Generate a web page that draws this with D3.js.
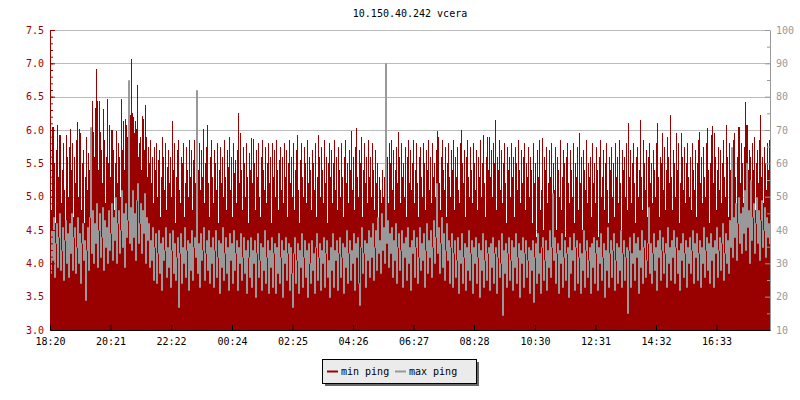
<!DOCTYPE html>
<html>
<head>
<meta charset="utf-8">
<script src="https://cdn.jsdelivr.net/npm/d3@7"></script>
<style>
  body { margin: 0; background: #fff; }
  svg text { font-family: "DejaVu Sans Mono", monospace; font-size: 10px; }
</style>
</head>
<body>
<svg id="chart" width="800" height="400"></svg>
<script>
var title = "10.150.40.242 vcera";
var startTime = "18:20";
var sampleMinutes = 2;
var timeLabels = ["18:20","20:21","22:22","00:24","02:25","04:26","06:27","08:28","10:30","12:31","14:32","16:33"];
var leftTicks = [3.0,3.5,4.0,4.5,5.0,5.5,6.0,6.5,7.0,7.5];
var rightTicks = [10,20,30,40,50,60,70,80,90,100];
var seriesNames = ["min ping","max ping"];

// min ping, ms (left axis), one value every 2 minutes
var minPing = [
5.2,4.8,6.05,6.05,5.5,4.6,5.7,6.07,5.3,5.93,5.93,4.9,5.4,5.8,5.1,4.5,5.92,5.6,5.0,5.75,
6.02,5.4,5.8,4.7,5.6,5.2,5.85,6.12,5.0,6.02,5.95,4.8,5.5,5.7,4.6,5.3,5.9,5.1,5.65,5.4,
5.5,5.8,6.43,5.97,5.6,6.33,6.92,6.43,5.4,6.44,5.97,5.7,5.2,6.32,5.85,4.9,5.6,6.46,5.5,6.07,
5.3,6.0,6.0,5.7,4.8,5.5,5.98,5.2,5.8,5.6,5.0,6.47,5.7,6.14,5.4,6.16,6.08,5.9,5.3,5.8,
6.23,7.07,6.25,6.19,5.96,6.14,6.02,6.67,5.6,5.8,5.9,5.4,6.21,6.16,5.7,6.38,5.9,5.3,5.75,5.5,
5.85,5.2,5.6,4.9,5.75,5.4,5.8,5.0,5.55,5.7,4.7,5.3,5.9,5.6,5.1,5.8,4.8,5.45,5.7,5.2,
5.6,5.0,6.14,5.4,5.8,4.6,5.3,5.7,5.85,5.1,4.9,5.6,5.5,5.8,4.7,5.2,5.75,5.4,5.0,5.85,
5.3,5.7,4.8,5.55,5.85,5.2,5.6,4.6,5.4,5.8,5.1,5.7,5.3,6.02,4.9,5.5,5.75,6.07,5.2,4.7,
5.6,5.85,5.3,4.9,5.7,5.5,5.1,5.8,4.6,5.4,5.75,5.2,5.6,5.0,5.85,5.3,4.8,5.7,5.45,5.9,
5.1,5.6,4.7,5.8,5.35,5.55,4.9,5.7,6.26,5.2,5.95,5.4,4.8,5.75,5.5,5.0,5.8,5.3,4.6,5.65,
5.4,5.88,5.2,5.86,5.5,4.8,5.7,5.3,5.8,5.0,4.7,5.6,5.85,5.4,5.1,5.75,4.9,5.5,5.8,5.2,
5.6,4.6,5.8,5.3,5.7,5.0,5.85,5.4,4.8,5.55,5.75,5.1,5.6,4.9,5.8,5.3,5.7,4.7,5.5,5.85,
5.2,5.6,5.0,5.8,4.8,5.4,5.7,5.93,5.1,4.6,5.55,5.8,5.3,5.0,5.75,5.5,4.9,5.85,5.2,5.6,
5.4,4.8,5.7,5.5,5.1,5.8,4.7,5.3,5.93,5.6,5.0,5.75,5.4,4.9,5.85,5.2,5.6,4.6,5.5,5.8,
5.3,5.7,4.9,5.5,5.85,5.1,5.6,4.8,5.75,5.4,5.0,5.8,5.3,4.7,5.6,5.85,5.2,5.5,4.9,5.7,
5.4,5.98,5.1,5.6,4.8,5.75,6.03,5.3,5.0,5.7,5.5,5.9,4.7,5.4,5.8,5.2,5.6,4.9,5.85,5.3,
5.6,5.0,5.8,5.4,4.8,5.7,5.2,5.5,4.6,5.3,5.1,4.9,5.4,5.0,5.3,4.7,5.2,5.6,4.9,5.8,
5.5,5.85,5.1,5.7,4.8,5.4,5.75,5.2,5.97,5.6,4.9,5.8,5.3,5.5,5.0,5.75,4.7,5.6,5.85,5.2,
5.7,5.1,5.5,5.85,4.9,5.4,5.8,5.2,4.7,5.6,5.75,5.3,5.0,5.8,5.5,4.8,5.7,5.4,5.85,5.1,
5.6,4.9,5.8,5.3,5.5,5.0,5.7,5.99,5.9,5.2,4.8,5.6,5.85,5.4,5.1,5.75,4.7,5.5,5.8,5.3,
5.0,5.7,5.4,5.85,4.8,5.6,5.3,5.75,5.1,4.9,5.8,6.0,5.5,5.2,5.7,4.7,5.6,5.85,5.3,5.0,
5.75,5.4,4.9,5.8,5.5,5.1,5.7,4.8,5.6,5.3,5.85,5.0,5.5,5.93,5.2,4.7,5.6,5.9,5.4,5.9,
5.3,5.7,5.0,5.8,5.5,6.15,4.8,5.6,5.4,5.85,5.1,5.7,4.9,5.5,5.8,5.2,4.6,5.75,5.4,5.6,
5.0,5.8,5.3,5.6,4.7,5.75,5.5,5.1,5.85,5.4,4.9,5.7,5.2,5.6,5.8,4.8,5.5,5.3,5.75,5.0,
5.6,5.4,4.6,5.8,5.2,5.5,4.4,5.7,5.3,5.85,4.8,5.1,5.88,4.5,5.6,5.4,5.75,4.9,5.2,5.7,
5.3,5.8,4.7,5.5,5.1,5.75,4.5,5.6,5.4,5.0,5.85,4.8,5.3,5.7,5.5,4.4,5.6,5.8,5.2,4.9,
5.7,5.4,5.0,5.8,4.6,5.5,5.3,5.75,4.8,5.95,5.2,5.6,4.5,5.7,5.4,5.1,5.85,4.9,5.5,5.3,
5.6,4.7,5.8,5.2,5.5,4.9,5.75,5.4,4.4,5.6,5.85,5.0,5.3,5.7,4.8,5.5,5.8,5.1,4.6,5.6,
5.4,5.75,5.0,5.5,4.7,5.8,5.3,5.6,4.9,5.85,5.2,4.5,5.7,5.4,5.6,5.0,5.8,4.8,6.1,5.3,
5.7,4.9,5.5,5.8,5.2,4.6,5.6,5.75,5.0,5.4,6.15,5.3,4.8,5.85,5.5,5.1,5.7,4.7,5.6,5.8,
5.2,5.5,4.9,5.7,5.4,5.0,5.8,6.1,5.3,4.7,5.6,5.5,5.95,5.1,5.75,4.8,5.4,5.9,5.6,5.2,
6.22,5.3,4.8,5.7,5.5,5.0,5.95,5.4,5.8,4.6,5.2,5.95,5.6,5.1,5.75,4.9,5.5,5.8,5.3,5.0,
5.6,4.8,5.8,5.4,5.1,5.7,4.7,5.5,5.85,5.97,5.2,5.6,4.9,5.75,5.3,5.0,5.8,6.03,5.4,4.6,
5.5,5.93,6.06,5.2,5.95,5.6,4.8,5.4,5.75,5.1,5.7,4.9,5.5,5.85,5.3,5.0,6.07,5.6,4.7,5.8,
5.4,5.7,5.1,5.85,5.95,5.3,4.8,5.6,6.05,6.05,5.2,5.8,5.5,4.9,5.75,6.42,6.08,6.07,5.4,5.7,
5.6,5.0,5.8,5.4,5.9,4.8,5.5,5.7,5.2,5.85,6.22,5.3,5.6,4.9,5.75,5.5,5.1,5.8,5.4,5.85
];

// max ping, ms (right axis), one value every 2 minutes
var maxPing = [
27,40,31,44,26,36,42,29,38,45,28,34,41,25,37,43,30,39,26,42,
33,45,28,38,41,27,35,44,30,39,24,36,42,31,37,19,34,41,28,44,
71,33,46,30,42,36,48,29,40,45,32,38,47,28,43,35,41,30,46,34,
39,48,31,44,37,50,30,42,46,33,40,52,35,45,29,48,38,43,85,36,
47,34,52,38,45,31,49,54,36,42,48,33,46,39,51,30,44,37,42,29,
37,31,41,25,35,39,24,33,40,27,36,22,38,31,34,41,26,35,29,39,
23,34,40,27,36,25,32,38,17,33,39,24,35,30,41,26,34,37,22,36,
28,40,25,35,38,32,82,27,36,23,39,31,34,41,25,33,37,28,40,24,
35,30,38,23,34,40,26,32,37,21,36,29,41,25,33,38,27,35,22,39,
31,36,24,40,28,33,37,22,35,30,39,25,32,38,27,34,21,37,32,26,
38,23,34,30,37,20,33,39,26,31,36,22,35,28,40,24,32,37,21,34,
29,38,23,33,36,21,35,27,39,24,32,37,20,34,30,38,25,33,36,22,
35,27,17,33,38,24,31,36,21,34,29,39,23,32,37,26,34,20,36,30,
24,37,28,33,21,35,39,25,32,36,22,34,30,38,23,33,37,26,31,20,
35,28,39,23,34,31,37,22,33,38,26,32,36,21,35,29,40,24,33,37,
25,34,30,39,22,36,32,38,24,17.5,35,41,27,33,37,23,36,31,40,26,
38,32,42,25,35,40,28,44,33,37,27,45,34,41,30,90,36,43,29,39,
33,41,26,37,31,42,24,35,39,28,34,40,23,36,32,38,25,41,30,35,
22,37,33,40,26,35,38,24,32,41,28,36,31,39,23,34,42,27,37,32,
40,26,35,43,30,38,54,33,41,27,36,44,29,39,25,34,42,31,37,24,
35,39,23,33,37,26,31,38,21,34,30,39,24,32,36,22,35,28,40,25,
33,37,21,35,30,38,24,32,36,20,34,28,39,23,31,37,25,33,35,22,
36,29,38,24,33,35,21,32,37,26,30,39,14.5,34,27,36,23,33,38,25,
31,37,22,35,29,39,24,32,36,20,34,30,38,23,33,37,26,31,35,21,
34,28,37,18.5,32,36,24,39,27,33,21,35,38,25,31,37,22,34,29,40,
26,35,51,31,38,24,33,36,21,34,30,39,23,32,37,25,33,35,20,38,
27,34,31,39,22,35,37,24,32,36,21,33,28,40,23,34,37,26,31,35,
21,36,29,38,24,33,37,22,35,30,39,25,32,36,20,34,28,41,23,33,
37,26,34,39,22,31,36,24,35,28,40,23,33,37,25,32,35,15,34,38,
23,33,30,39,25,36,32,38,21,34,29,40,24,35,37,26,31,36,47,27,
36,24,33,39,28,35,22,37,32,40,25,34,38,27,33,36,23,41,30,35,
25,37,32,40,24,35,38,27,34,22,36,31,39,26,33,37,23,35,30,38,
27,34,40,24,36,32,39,25,33,37,23,35,30,41,26,34,38,28,36,24,
39,31,35,23,37,33,41,26,34,38,28,36,42,25,33,39,30,37,27,43,
35,65,32,44,38,48,31,42,50,36,45,33,47,39,52,34,60,41,46,30,
55,37,44,48,33,42,50,36,46,31,43,49,35,40,47,32,44,38,42,36
];

var red = "#990000", grey = "#999999";
var plotLeft = 50, plotRight = 770, plotTop = 30, plotBottom = 330;

var svg = d3.select("#chart");
svg.append("rect").attr("width", 800).attr("height", 400).attr("fill", "#fff");

var parseHM = d3.timeParse("%Y-%m-%d %H:%M");
var t0 = parseHM("2020-01-01 " + startTime);
var t1 = d3.timeDay.offset(t0, 1);
function labelTime(s) {
  var t = parseHM("2020-01-01 " + s);
  return t < t0 ? d3.timeDay.offset(t, 1) : t;
}

var x = d3.scaleTime().domain([t0, t1]).range([plotLeft, plotRight]);
var y = d3.scaleLinear().domain([3, 7.5]).range([plotBottom, plotTop]);
var y2 = d3.scaleLinear().domain([10, 100]).range([plotBottom, plotTop]);

var minData = minPing.map((v, i) => ({t: d3.timeMinute.offset(t0, i * sampleMinutes), v: v}));
var maxData = maxPing.map((v, i) => ({t: d3.timeMinute.offset(t0, i * sampleMinutes + sampleMinutes / 2), v: v}));

// grid
svg.append("g").selectAll("line").data(leftTicks.slice(1)).join("line")
    .attr("x1", plotLeft).attr("x2", plotRight)
    .attr("y1", d => Math.round(y(d)) + 0.5).attr("y2", d => Math.round(y(d)) + 0.5)
    .attr("stroke", "#bbbbbb");

svg.append("clipPath").attr("id", "clip").append("rect")
    .attr("x", plotLeft).attr("y", plotTop).attr("width", plotRight - plotLeft).attr("height", plotBottom - plotTop);
var plot = svg.append("g").attr("clip-path", "url(#clip)");

// min ping bars
plot.selectAll("rect").data(minData).join("rect")
    .attr("x", d => x(d.t))
    .attr("width", d => x(d3.timeMinute.offset(d.t, sampleMinutes)) - x(d.t))
    .attr("y", d => y(d.v))
    .attr("height", d => plotBottom - y(d.v))
    .attr("fill", red)
    .attr("shape-rendering", "crispEdges");

// max ping line, one pixel column per sample
var line = d3.line().x(d => x(d.t)).y(d => Math.round(y2(d.v)) + 0.5).curve(d3.curveStepAfter);
plot.append("path").datum(maxData)
    .attr("d", line)
    .attr("fill", "none")
    .attr("stroke", grey)
    .attr("stroke-width", 1)
    .attr("stroke-linecap", "square");

// axes
var yAxisMinor = svg.append("g").attr("transform", `translate(${plotLeft},0)`)
    .call(d3.axisLeft(y).tickValues(d3.range(30, 76).map(d => d / 10)).tickSize(-3).tickSizeOuter(0).tickFormat(""));
yAxisMinor.selectAll("line").attr("stroke", red);
yAxisMinor.select(".domain").remove();

var yAxis = svg.append("g").attr("transform", `translate(${plotLeft},0)`)
    .call(d3.axisLeft(y).tickValues(leftTicks).tickSize(-5).tickSizeOuter(0).tickPadding(6).tickFormat(d3.format(".1f")));
yAxis.selectAll("line").attr("stroke", red);
yAxis.select(".domain").attr("stroke", red);
yAxis.selectAll("text").attr("fill", red).style("font-family", "DejaVu Sans Mono").style("font-size", "10px");

var y2Minor = svg.append("g").attr("transform", `translate(${plotRight},0)`)
    .call(d3.axisRight(y2).tickValues(d3.range(15, 100, 10)).tickSize(-3).tickSizeOuter(0).tickFormat(""));
y2Minor.selectAll("line").attr("stroke", grey);
y2Minor.select(".domain").remove();

var y2Axis = svg.append("g").attr("transform", `translate(${plotRight},0)`)
    .call(d3.axisRight(y2).tickValues(rightTicks).tickSize(-5).tickSizeOuter(0).tickPadding(6));
y2Axis.selectAll("line").attr("stroke", grey);
y2Axis.select(".domain").attr("stroke", grey);
y2Axis.selectAll("text").attr("fill", grey).style("font-family", "DejaVu Sans Mono").style("font-size", "10px");

var xAxis = svg.append("g").attr("transform", `translate(0,${plotBottom})`)
    .call(d3.axisBottom(x).tickValues(timeLabels.map(labelTime)).tickSize(-5).tickSizeOuter(0).tickPadding(8)
      .tickFormat(d3.timeFormat("%H:%M")));
xAxis.selectAll("line").attr("stroke", "#000");
xAxis.select(".domain").attr("stroke", "#000");
xAxis.selectAll("text").attr("fill", "#000").style("font-family", "DejaVu Sans Mono").style("font-size", "10px");

// title
svg.append("text").attr("x", 410).attr("y", 17).attr("text-anchor", "middle").attr("fill", "#000").text(title);

// legend
var lg = svg.append("g").attr("transform", "translate(322,359)");
lg.append("rect").attr("x", 3).attr("y", 3).attr("width", 154).attr("height", 24).attr("fill", "#666");
lg.append("rect").attr("x", 0.5).attr("y", 0.5).attr("width", 154).attr("height", 24).attr("fill", "#ebebeb").attr("stroke", "#000");
[red, grey].forEach(function(c, i) {
  var ox = 5 + i * 68;
  lg.append("line").attr("x1", ox).attr("x2", ox + 11).attr("y1", 12.5).attr("y2", 12.5).attr("stroke", c).attr("stroke-width", 2);
  lg.append("text").attr("x", ox + 14).attr("y", 15.5).attr("fill", "#000").text(seriesNames[i]);
});
</script>
</body>
</html>
